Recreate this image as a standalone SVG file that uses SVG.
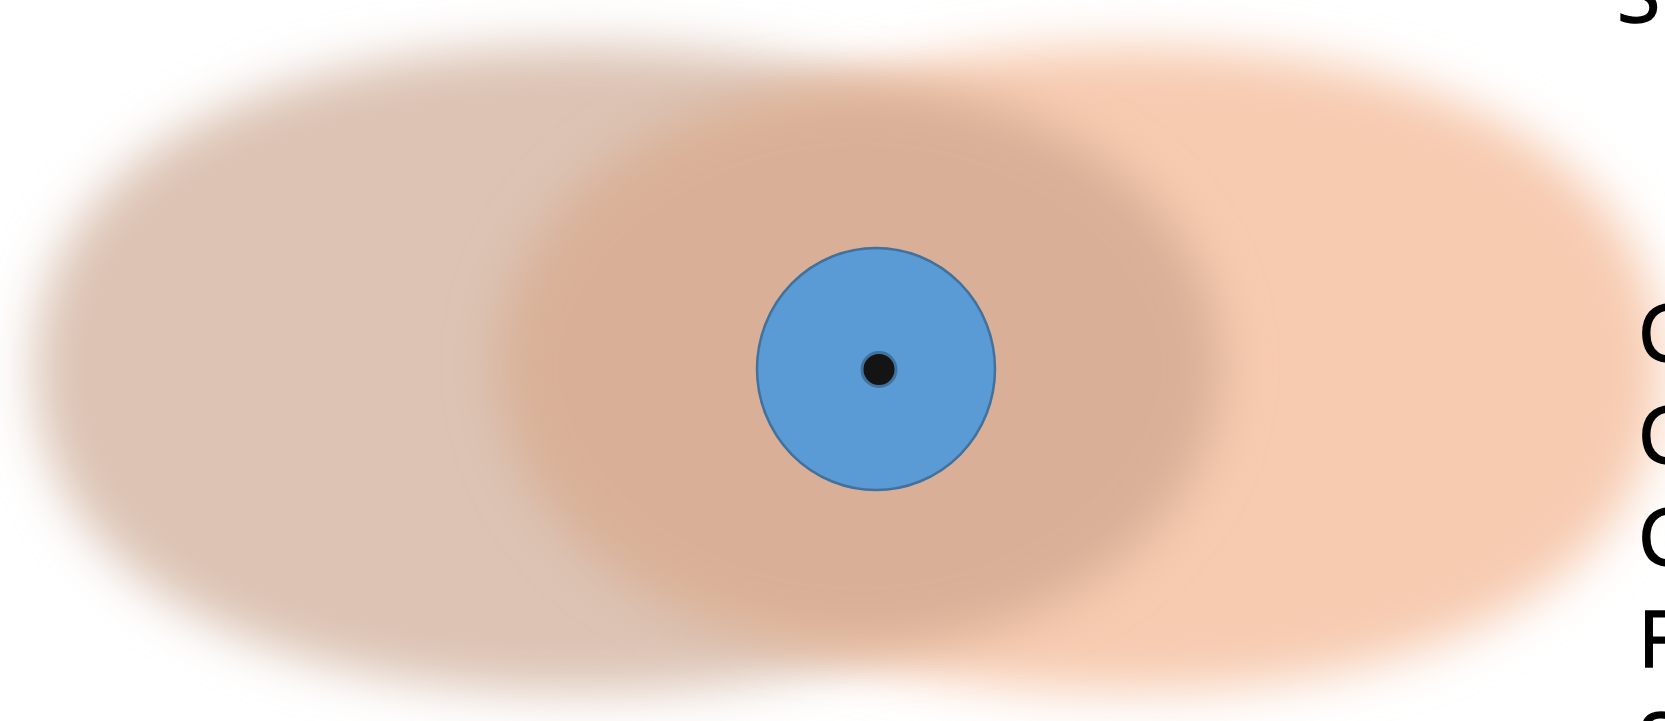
<svg xmlns="http://www.w3.org/2000/svg" width="1665" height="721" viewBox="0 0 1665 721">
  <defs>
    <filter id="soft" filterUnits="userSpaceOnUse" x="-200" y="-200" width="2065" height="1121">
      <feGaussianBlur stdDeviation="25"/>
    </filter>
    <style>
      .blob { filter: url(#soft); }
      .lbl { font-family: "Open Sans", "Liberation Sans", sans-serif; font-size: 79px; fill: #000000; stroke: #000000; stroke-width: 1.4px; }
    </style>
  </defs>
  <rect width="1665" height="721" fill="#ffffff"/>
  <g id="halo-left">
    <path class="blob" fill="#dcc3b4" d="M35,369 C35,168 242,46 580,46 C918,46 1125,168 1125,369 C1125,570 918,692 580,692 C242,692 35,570 35,369Z"/>
  </g>
  <g id="halo-right">
    <path class="blob" fill="#f7cbb0" d="M595,369 C595,168 798,47 1128,47 C1458,47 1662,168 1662,369 C1662,570 1458,691 1128,691 C798,691 595,570 595,369Z"/>
  </g>
  <g id="halo-middle">
    <ellipse class="blob" fill="#d9b097" cx="860" cy="366" rx="362" ry="281"/>
  </g>
  <g id="body">
    <ellipse cx="876" cy="369" rx="119" ry="121" fill="#5b9bd5" stroke="#41719c" stroke-width="2.5"/>
  </g>
  <g id="core">
    <circle cx="879" cy="369.5" r="17" fill="#141414" stroke="#41719c" stroke-width="3"/>
  </g>
  <g id="connectors"></g>
  <g id="labels">
    <text class="lbl" x="1617" y="22">S</text>
    <text class="lbl" x="1638" y="361">C</text>
    <text class="lbl" x="1638" y="463">C</text>
    <text class="lbl" x="1638" y="565">C</text>
    <text class="lbl" x="1638" y="667">F</text>
    <text class="lbl" x="1638" y="769">S</text>
  </g>
</svg>
